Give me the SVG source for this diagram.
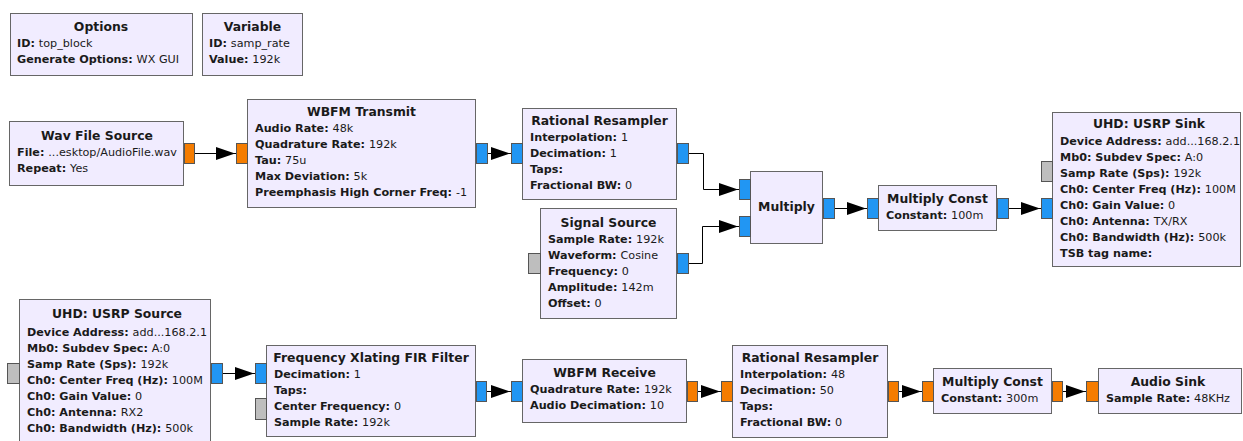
<svg xmlns="http://www.w3.org/2000/svg" width="1243" height="441" viewBox="0 0 1243 441">
<style>
text{font-family:"DejaVu Sans","Noto Sans",sans-serif;font-size:11.2px;fill:#1a1a1a}
.t{font-weight:bold;text-anchor:middle;font-size:12.4px}
.k{font-weight:bold}
.v{font-weight:normal}
.blk{fill:#F1ECFF;stroke:#666;stroke-width:1}
.pc{fill:#2196F3;stroke:#555;stroke-width:1}
.pf{fill:#F57C00;stroke:#555;stroke-width:1}
.pm{fill:#BEBEBE;stroke:#555;stroke-width:1}
.c{fill:none;stroke:#000;stroke-width:1;marker-end:url(#ah)}
</style>
<defs>
<marker id="ah" markerUnits="userSpaceOnUse" markerWidth="21" markerHeight="14" refX="20" refY="7" orient="auto">
<path d="M0,0.5 L19,7 L0,13.5 z" fill="#000"/>
</marker>
</defs>
<rect width="1243" height="441" fill="#fff"/>

<g id="options">
<rect class="blk" x="10.5" y="13.5" width="182" height="62"/>
<text class="t" x="101" y="31">Options</text>
<text x="17" y="47"><tspan class="k">ID: </tspan><tspan class="v">top_block</tspan></text>
<text x="17" y="63"><tspan class="k">Generate Options: </tspan><tspan class="v">WX GUI</tspan></text>
</g>

<g id="variable">
<rect class="blk" x="202.5" y="13.5" width="100" height="62"/>
<text class="t" x="252.5" y="31">Variable</text>
<text x="209" y="47"><tspan class="k">ID: </tspan><tspan class="v">samp_rate</tspan></text>
<text x="209" y="63"><tspan class="k">Value: </tspan><tspan class="v">192k</tspan></text>
</g>

<g id="connectors">
<path class="c" d="M195,153.5 H236"/>
<path class="c" d="M488,153.5 H511"/>
<path class="c" d="M689,153.5 H703.5 V189.5 H739"/>
<path class="c" d="M689,263.5 H702.5 V226.5 H739"/>
<path class="c" d="M835,208.5 H867"/>
<path class="c" d="M1009,208.5 H1041"/>
<path class="c" d="M222,373.5 H255"/>
<path class="c" d="M487,391.5 H511"/>
<path class="c" d="M698,391.5 H721"/>
<path class="c" d="M899,391.5 H922"/>
<path class="c" d="M1063,391.5 H1086"/>
</g>

<g id="wav_file_source">
<rect class="blk" x="9.5" y="121.5" width="174" height="64"/>
<text class="t" x="97" y="140">Wav File Source</text>
<text x="17" y="156"><tspan class="k">File: </tspan><tspan class="v">...esktop/AudioFile.wav</tspan></text>
<text x="17" y="172"><tspan class="k">Repeat: </tspan><tspan class="v">Yes</tspan></text>
<rect class="pf" x="184.5" y="143.5" width="10" height="20"/>
</g>

<g id="wbfm_transmit">
<rect class="blk" x="247.5" y="99.5" width="228" height="108"/>
<text class="t" x="361.5" y="116">WBFM Transmit</text>
<text x="255" y="132"><tspan class="k">Audio Rate: </tspan><tspan class="v">48k</tspan></text>
<text x="255" y="148"><tspan class="k">Quadrature Rate: </tspan><tspan class="v">192k</tspan></text>
<text x="255" y="164"><tspan class="k">Tau: </tspan><tspan class="v">75u</tspan></text>
<text x="255" y="180"><tspan class="k">Max Deviation: </tspan><tspan class="v">5k</tspan></text>
<text x="255" y="196"><tspan class="k">Preemphasis High Corner Freq: </tspan><tspan class="v">-1</tspan></text>
<rect class="pf" x="236.5" y="143.5" width="11" height="20"/>
<rect class="pc" x="476.5" y="143.5" width="11" height="20"/>
</g>

<g id="rational_resampler_tx">
<rect class="blk" x="522.5" y="108.5" width="154" height="91"/>
<text class="t" x="599.5" y="125">Rational Resampler</text>
<text x="530" y="141"><tspan class="k">Interpolation: </tspan><tspan class="v">1</tspan></text>
<text x="530" y="157"><tspan class="k">Decimation: </tspan><tspan class="v">1</tspan></text>
<text x="530" y="173"><tspan class="k">Taps: </tspan></text>
<text x="530" y="189"><tspan class="k">Fractional BW: </tspan><tspan class="v">0</tspan></text>
<rect class="pc" x="511.5" y="143.5" width="11" height="20"/>
<rect class="pc" x="677.5" y="143.5" width="11" height="20"/>
</g>

<g id="signal_source">
<rect class="blk" x="540.5" y="208.5" width="136" height="110"/>
<text class="t" x="608.5" y="227">Signal Source</text>
<text x="548" y="243"><tspan class="k">Sample Rate: </tspan><tspan class="v">192k</tspan></text>
<text x="548" y="259"><tspan class="k">Waveform: </tspan><tspan class="v">Cosine</tspan></text>
<text x="548" y="275"><tspan class="k">Frequency: </tspan><tspan class="v">0</tspan></text>
<text x="548" y="291"><tspan class="k">Amplitude: </tspan><tspan class="v">142m</tspan></text>
<text x="548" y="307"><tspan class="k">Offset: </tspan><tspan class="v">0</tspan></text>
<rect class="pm" x="528.5" y="253.5" width="12" height="20"/>
<rect class="pc" x="677.5" y="253.5" width="11" height="20"/>
</g>

<g id="multiply">
<rect class="blk" x="750.5" y="171.5" width="72" height="72"/>
<text class="t" x="786.5" y="211">Multiply</text>
<rect class="pc" x="739.5" y="179.5" width="11" height="20"/>
<rect class="pc" x="739.5" y="216.5" width="11" height="20"/>
<rect class="pc" x="823.5" y="198.5" width="11" height="20"/>
</g>

<g id="multiply_const_tx">
<rect class="blk" x="878.5" y="185.5" width="118" height="45"/>
<text class="t" x="937.5" y="203">Multiply Const</text>
<text x="886" y="219"><tspan class="k">Constant: </tspan><tspan class="v">100m</tspan></text>
<rect class="pc" x="867.5" y="198.5" width="11" height="20"/>
<rect class="pc" x="997.5" y="198.5" width="11" height="20"/>
</g>

<g id="usrp_sink">
<rect class="blk" x="1052.5" y="112.5" width="188" height="154"/>
<text class="t" x="1149" y="128">UHD: USRP Sink</text>
<text x="1060" y="145"><tspan class="k">Device Address: </tspan><tspan class="v">add...168.2.1</tspan></text>
<text x="1060" y="161"><tspan class="k">Mb0: Subdev Spec: </tspan><tspan class="v">A:0</tspan></text>
<text x="1060" y="177"><tspan class="k">Samp Rate (Sps): </tspan><tspan class="v">192k</tspan></text>
<text x="1060" y="193"><tspan class="k">Ch0: Center Freq (Hz): </tspan><tspan class="v">100M</tspan></text>
<text x="1060" y="209"><tspan class="k">Ch0: Gain Value: </tspan><tspan class="v">0</tspan></text>
<text x="1060" y="225"><tspan class="k">Ch0: Antenna: </tspan><tspan class="v">TX/RX</tspan></text>
<text x="1060" y="241"><tspan class="k">Ch0: Bandwidth (Hz): </tspan><tspan class="v">500k</tspan></text>
<text x="1060" y="257"><tspan class="k">TSB tag name: </tspan></text>
<rect class="pm" x="1041.5" y="161.5" width="11" height="20"/>
<rect class="pc" x="1041.5" y="198.5" width="11" height="20"/>
</g>

<g id="usrp_source">
<rect class="blk" x="19.5" y="299.5" width="191" height="150"/>
<text class="t" x="117" y="318">UHD: USRP Source</text>
<text x="27" y="336"><tspan class="k">Device Address: </tspan><tspan class="v">add...168.2.1</tspan></text>
<text x="27" y="352"><tspan class="k">Mb0: Subdev Spec: </tspan><tspan class="v">A:0</tspan></text>
<text x="27" y="368"><tspan class="k">Samp Rate (Sps): </tspan><tspan class="v">192k</tspan></text>
<text x="27" y="384"><tspan class="k">Ch0: Center Freq (Hz): </tspan><tspan class="v">100M</tspan></text>
<text x="27" y="400"><tspan class="k">Ch0: Gain Value: </tspan><tspan class="v">0</tspan></text>
<text x="27" y="416"><tspan class="k">Ch0: Antenna: </tspan><tspan class="v">RX2</tspan></text>
<text x="27" y="432"><tspan class="k">Ch0: Bandwidth (Hz): </tspan><tspan class="v">500k</tspan></text>
<rect class="pm" x="7.5" y="363.5" width="12" height="20"/>
<rect class="pc" x="211.5" y="363.5" width="11" height="20"/>
</g>

<g id="freq_xlating_fir">
<rect class="blk" x="266.5" y="345.5" width="209" height="91"/>
<text class="t" x="371" y="362">Frequency Xlating FIR Filter</text>
<text x="274" y="378"><tspan class="k">Decimation: </tspan><tspan class="v">1</tspan></text>
<text x="274" y="394"><tspan class="k">Taps: </tspan></text>
<text x="274" y="410"><tspan class="k">Center Frequency: </tspan><tspan class="v">0</tspan></text>
<text x="274" y="426"><tspan class="k">Sample Rate: </tspan><tspan class="v">192k</tspan></text>
<rect class="pc" x="255.5" y="363.5" width="11" height="20"/>
<rect class="pm" x="255.5" y="398.5" width="11" height="21"/>
<rect class="pc" x="476.5" y="381.5" width="10" height="20"/>
</g>

<g id="wbfm_receive">
<rect class="blk" x="522.5" y="359.5" width="164" height="63"/>
<text class="t" x="604.5" y="377">WBFM Receive</text>
<text x="530" y="393"><tspan class="k">Quadrature Rate: </tspan><tspan class="v">192k</tspan></text>
<text x="530" y="409"><tspan class="k">Audio Decimation: </tspan><tspan class="v">10</tspan></text>
<rect class="pc" x="511.5" y="381.5" width="11" height="20"/>
<rect class="pf" x="687.5" y="381.5" width="10" height="20"/>
</g>

<g id="rational_resampler_rx">
<rect class="blk" x="732.5" y="345.5" width="155" height="92"/>
<text class="t" x="810" y="362">Rational Resampler</text>
<text x="740" y="378"><tspan class="k">Interpolation: </tspan><tspan class="v">48</tspan></text>
<text x="740" y="394"><tspan class="k">Decimation: </tspan><tspan class="v">50</tspan></text>
<text x="740" y="410"><tspan class="k">Taps: </tspan></text>
<text x="740" y="426"><tspan class="k">Fractional BW: </tspan><tspan class="v">0</tspan></text>
<rect class="pf" x="721.5" y="381.5" width="11" height="20"/>
<rect class="pf" x="888.5" y="381.5" width="10" height="20"/>
</g>

<g id="multiply_const_rx">
<rect class="blk" x="933.5" y="368.5" width="118" height="45"/>
<text class="t" x="992.5" y="386">Multiply Const</text>
<text x="941" y="402"><tspan class="k">Constant: </tspan><tspan class="v">300m</tspan></text>
<rect class="pf" x="922.5" y="381.5" width="11" height="20"/>
<rect class="pf" x="1052.5" y="381.5" width="10" height="20"/>
</g>

<g id="audio_sink">
<rect class="blk" x="1098.5" y="368.5" width="143" height="45"/>
<text class="t" x="1168" y="386">Audio Sink</text>
<text x="1106" y="402"><tspan class="k">Sample Rate: </tspan><tspan class="v">48KHz</tspan></text>
<rect class="pf" x="1086.5" y="381.5" width="12" height="20"/>
</g>
</svg>
